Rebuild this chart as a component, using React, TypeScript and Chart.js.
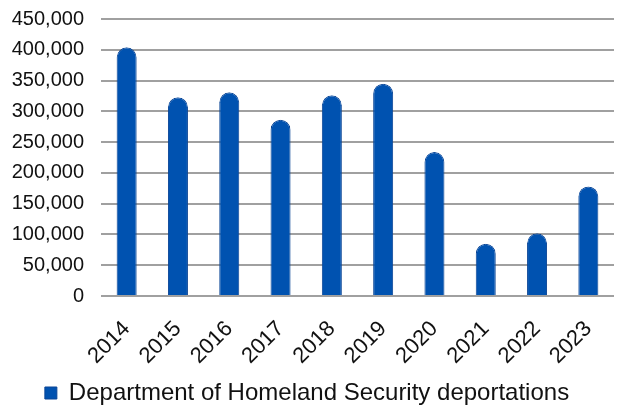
import React, { useEffect, useRef } from "react";
import { Chart, registerables } from "chart.js";

Chart.register(...registerables);

const years = ["2014", "2015", "2016", "2017", "2018", "2019", "2020", "2021", "2022", "2023"];
const deportations = [404000, 323000, 331000, 286500, 326000, 345000, 234000, 85000, 102000, 178000];
const seriesLabel = "Department of Homeland Security deportations";
const yMax = 450000;
const yStep = 50000;

export default function App() {
  const ref = useRef<HTMLCanvasElement | null>(null);

  useEffect(() => {
    if (!ref.current) return;
    const font = "'Liberation Sans', Arial, sans-serif";
    const chart = new Chart(ref.current, {
      type: "bar",
      data: {
        labels: years,
        datasets: [
          {
            label: seriesLabel,
            data: deportations,
            backgroundColor: "#0052B0",
            borderColor: "#0A4596",
            borderWidth: 1,
            borderSkipped: "bottom",
            borderRadius: { topLeft: 10, topRight: 10, bottomLeft: 0, bottomRight: 0 },
            barPercentage: 0.39,
            categoryPercentage: 1,
          },
        ],
      },
      options: {
        animation: false,
        responsive: true,
        maintainAspectRatio: false,
        layout: { padding: { top: 19, right: 4, left: 0, bottom: -10 } },
        plugins: {
          tooltip: { enabled: false },
          legend: {
            position: "bottom",
            labels: {
              color: "#111",
              font: { family: font, size: 24 },
              boxWidth: 12,
              boxHeight: 12,
              padding: 10,
            },
          },
        },
        scales: {
          x: {
            grid: { display: false, drawTicks: false },
            border: { display: false },
            ticks: {
              color: "#111",
              font: { family: font, size: 22 },
              maxRotation: 45,
              minRotation: 45,
              padding: 20,
            },
            afterFit: (scale: any) => {
              scale.height = 75;
              scale.paddingLeft = 0;
              scale.paddingRight = 0;
            },
          },
          y: {
            min: 0,
            max: yMax,
            grid: { color: "#A0A0A0", lineWidth: 2, drawTicks: false },
            border: { display: false },
            ticks: {
              stepSize: yStep,
              color: "#111",
              font: { family: font, size: 20 },
              padding: 17,
              callback: (v: any) => Number(v).toLocaleString("en-US"),
            },
            afterFit: (scale: any) => {
              scale.width = 101;
              scale.paddingTop = 0;
              scale.paddingBottom = 0;
            },
          },
        },
      },
    });
    return () => chart.destroy();
  }, []);

  return (
    <div style={{ position: "fixed", left: 0, top: 0, width: 618, height: 405, background: "#fff" }}>
      <canvas ref={ref} />
    </div>
  );
}
